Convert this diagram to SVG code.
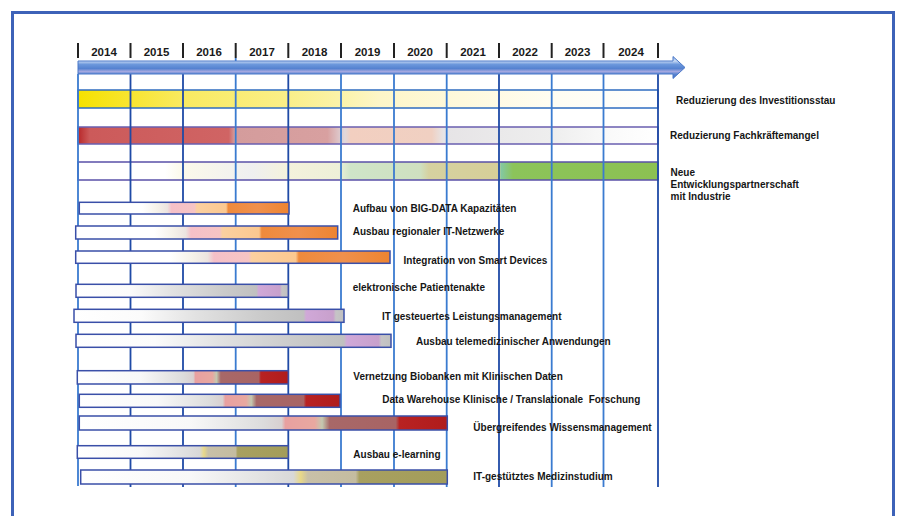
<svg xmlns="http://www.w3.org/2000/svg" width="897" height="516" viewBox="0 0 897 516">
<style>
.yr{font-family:"Liberation Sans",Arial,sans-serif;font-weight:bold;font-size:11.5px;fill:#1a1a1a;text-anchor:middle}
.lb{font-family:"Liberation Sans",Arial,sans-serif;font-weight:bold;font-size:10px;fill:#161616;white-space:pre}
.tick{stroke:#222;stroke-width:2}
.gl{stroke:#3a7bd0;stroke-width:1.8}
.gd{stroke:#1f4aa6;stroke-width:1.8}
.bar{stroke:#3a4fa8;stroke-width:1.5}
</style>
<defs>
<linearGradient id="gY" x1="0" x2="1" y1="0" y2="0">
<stop offset="0" stop-color="#f5e200"/><stop offset="0.09" stop-color="#f8e530"/><stop offset="0.18" stop-color="#f9ea60"/><stop offset="0.36" stop-color="#faef88"/><stop offset="0.45" stop-color="#fbf3a8"/><stop offset="0.52" stop-color="#fdf6c8"/><stop offset="0.66" stop-color="#fef9dc"/><stop offset="0.82" stop-color="#fffdf2"/><stop offset="1" stop-color="#ffffff"/>
</linearGradient>
<linearGradient id="gR" x1="0" x2="1" y1="0" y2="0">
<stop offset="0" stop-color="#b8282a"/><stop offset="0.02" stop-color="#cc5a5a"/><stop offset="0.26" stop-color="#d06464"/><stop offset="0.27" stop-color="#d49c9c"/><stop offset="0.43" stop-color="#d8a0a0"/><stop offset="0.46" stop-color="#e0d8dc"/><stop offset="0.47" stop-color="#f2cfc0"/><stop offset="0.61" stop-color="#f0d0c2"/><stop offset="0.63" stop-color="#e6e4e6"/><stop offset="0.82" stop-color="#eeeeee"/><stop offset="0.92" stop-color="#fafafa"/><stop offset="1" stop-color="#ffffff"/>
</linearGradient>
<linearGradient id="gG" x1="0" x2="1" y1="0" y2="0">
<stop offset="0" stop-color="#ffffff"/><stop offset="0.15" stop-color="#ffffff"/><stop offset="0.18" stop-color="#fbf9ea"/><stop offset="0.3" stop-color="#efeff0"/><stop offset="0.36" stop-color="#f4f2dc"/><stop offset="0.45" stop-color="#eef0d8"/><stop offset="0.47" stop-color="#cfe5c8"/><stop offset="0.59" stop-color="#cfe0c0"/><stop offset="0.605" stop-color="#d6d1a0"/><stop offset="0.725" stop-color="#d6cf98"/><stop offset="0.73" stop-color="#84c8a0"/><stop offset="0.75" stop-color="#8cc45a"/><stop offset="1" stop-color="#8cc152"/>
</linearGradient>
<linearGradient id="gOr" x1="0" x2="1" y1="0" y2="0">
<stop offset="0" stop-color="#ffffff"/><stop offset="0.3" stop-color="#ffffff"/><stop offset="0.37" stop-color="#f6f2ea"/><stop offset="0.42" stop-color="#ece4e0"/><stop offset="0.44" stop-color="#f5c0c8"/><stop offset="0.55" stop-color="#f6c4c4"/><stop offset="0.56" stop-color="#fbd0a0"/><stop offset="0.7" stop-color="#fbc890"/><stop offset="0.71" stop-color="#ef8a3c"/><stop offset="0.85" stop-color="#f0904c"/><stop offset="1" stop-color="#ee8430"/>
</linearGradient>
<linearGradient id="gPu" x1="0" x2="1" y1="0" y2="0">
<stop offset="0" stop-color="#ffffff"/><stop offset="0.25" stop-color="#fbfbfb"/><stop offset="0.45" stop-color="#e2e2e2"/><stop offset="0.7" stop-color="#cacaca"/><stop offset="0.85" stop-color="#c0c0c0"/><stop offset="0.86" stop-color="#d0a8d8"/><stop offset="0.96" stop-color="#c8a0cc"/><stop offset="0.97" stop-color="#c6c4c6"/><stop offset="1" stop-color="#c0c0c0"/>
</linearGradient>
<linearGradient id="gRd" x1="0" x2="1" y1="0" y2="0">
<stop offset="0" stop-color="#ffffff"/><stop offset="0.3" stop-color="#f8f8f8"/><stop offset="0.5" stop-color="#dcdcdc"/><stop offset="0.55" stop-color="#d8d0d0"/><stop offset="0.56" stop-color="#e8a0a0"/><stop offset="0.64" stop-color="#e8a8a0"/><stop offset="0.66" stop-color="#c4c8b0"/><stop offset="0.68" stop-color="#a86868"/><stop offset="0.86" stop-color="#a86464"/><stop offset="0.87" stop-color="#b82222"/><stop offset="1" stop-color="#b01c1c"/>
</linearGradient>
<linearGradient id="gOl" x1="0" x2="1" y1="0" y2="0">
<stop offset="0" stop-color="#ffffff"/><stop offset="0.3" stop-color="#f8f8f8"/><stop offset="0.58" stop-color="#d8d8d8"/><stop offset="0.6" stop-color="#e8d888"/><stop offset="0.62" stop-color="#c8c0a8"/><stop offset="0.75" stop-color="#c4bca0"/><stop offset="0.76" stop-color="#a8a060"/><stop offset="1" stop-color="#a39d5a"/>
</linearGradient>
<linearGradient id="gA" x1="0" x2="0" y1="0" y2="1">
<stop offset="0" stop-color="#8fb2e6"/><stop offset="0.2" stop-color="#c8daf4"/><stop offset="0.36" stop-color="#6c98dc"/><stop offset="0.55" stop-color="#5582d0"/><stop offset="0.68" stop-color="#a4a8e0"/><stop offset="0.8" stop-color="#5a86d2"/><stop offset="1" stop-color="#3c6cc4"/>
</linearGradient>
</defs>
<rect width="897" height="516" fill="#ffffff"/>
<path d="M12.5,516 V12.5 H893.5 V516" fill="none" stroke="#3d62b8" stroke-width="3"/>

<g id="years">
<line class="tick" x1="78" y1="43" x2="78" y2="58"/>
<line class="tick" x1="130.5" y1="43" x2="130.5" y2="58"/>
<line class="tick" x1="183" y1="43" x2="183" y2="58"/>
<line class="tick" x1="235.7" y1="43" x2="235.7" y2="58"/>
<line class="tick" x1="288.3" y1="43" x2="288.3" y2="58"/>
<line class="tick" x1="341" y1="43" x2="341" y2="58"/>
<line class="tick" x1="394" y1="43" x2="394" y2="58"/>
<line class="tick" x1="446.7" y1="43" x2="446.7" y2="58"/>
<line class="tick" x1="499" y1="43" x2="499" y2="58"/>
<line class="tick" x1="551.7" y1="43" x2="551.7" y2="58"/>
<line class="tick" x1="603.5" y1="43" x2="603.5" y2="58"/>
<line class="tick" x1="658" y1="43" x2="658" y2="58"/>
<text class="yr" x="104" y="56">2014</text>
<text class="yr" x="156.5" y="56">2015</text>
<text class="yr" x="209" y="56">2016</text>
<text class="yr" x="262" y="56">2017</text>
<text class="yr" x="314.5" y="56">2018</text>
<text class="yr" x="367.5" y="56">2019</text>
<text class="yr" x="420" y="56">2020</text>
<text class="yr" x="473" y="56">2021</text>
<text class="yr" x="525" y="56">2022</text>
<text class="yr" x="577.5" y="56">2023</text>
<text class="yr" x="631" y="56">2024</text>
</g>

<g id="rows">
<rect x="78" y="90" width="580" height="18" fill="url(#gY)" stroke="#2f6cc0" stroke-width="1.5"/>
<rect x="78" y="127" width="580" height="17" fill="url(#gR)" stroke="#6a5fb0" stroke-width="1.5"/>
<rect x="78" y="162" width="580" height="18" fill="url(#gG)" stroke="#5a50a8" stroke-width="1.5"/>
</g>

<g id="grid">
<line class="gl" x1="78" y1="74" x2="78" y2="486"/>
<line class="gd" x1="130.5" y1="74" x2="130.5" y2="487"/>
<line class="gd" x1="183" y1="74" x2="183" y2="487"/>
<line class="gl" x1="235.7" y1="58" x2="235.7" y2="487"/>
<line class="gd" x1="288.3" y1="74" x2="288.3" y2="487"/>
<line class="gl" x1="341" y1="74" x2="341" y2="487"/>
<line class="gl" x1="394" y1="74" x2="394" y2="487"/>
<line class="gl" x1="446.7" y1="74" x2="446.7" y2="487"/>
<line class="gd" x1="499" y1="74" x2="499" y2="487"/>
<line class="gl" x1="551.7" y1="74" x2="551.7" y2="487"/>
<line class="gl" x1="603.5" y1="74" x2="603.5" y2="487"/>
<line class="gd" x1="658" y1="74" x2="658" y2="487"/>
</g>

<g id="timeline-arrow">
<path d="M78,61 H673 V56.5 L685,67.5 L673,78.5 V74 H78 Z" fill="url(#gA)" stroke="#4a78c8" stroke-width="1"/>
</g>

<g id="n-investitionsstau"><text class="lb" x="676" y="103.5">Reduzierung des Investitionsstau</text></g>
<g id="n-fachkraefte"><text class="lb" x="670" y="138.5">Reduzierung Fachkräftemangel</text></g>
<g id="n-partnerschaft">
<text class="lb" x="670.5" y="176">Neue</text>
<text class="lb" x="670.5" y="188">Entwicklungspartnerschaft</text>
<text class="lb" x="670.5" y="200">mit Industrie</text>
</g>

<g id="n-bigdata">
<rect class="bar" x="79.3" y="202.3" width="209.7" height="11.7" fill="url(#gOr)"/>
<text class="lb" x="352.7" y="211.5">Aufbau von BIG-DATA Kapazitäten</text>
</g>
<g id="n-netzwerke">
<rect class="bar" x="75.7" y="226" width="262" height="13" fill="url(#gOr)"/>
<text class="lb" x="352.7" y="235">Ausbau regionaler IT-Netzwerke</text>
</g>
<g id="n-smartdevices">
<rect class="bar" x="75.7" y="251" width="314.3" height="12.3" fill="url(#gOr)"/>
<text class="lb" x="403.5" y="263.5">Integration von Smart Devices</text>
</g>
<g id="n-patientenakte">
<rect class="bar" x="76" y="284.3" width="212.3" height="13" fill="url(#gPu)"/>
<text class="lb" x="352.7" y="291">elektronische Patientenakte</text>
</g>
<g id="n-leistungsmanagement">
<rect class="bar" x="74" y="309.3" width="270" height="13" fill="url(#gPu)"/>
<text class="lb" x="382" y="320">IT gesteuertes Leistungsmanagement</text>
</g>
<g id="n-telemedizin">
<rect class="bar" x="76" y="334.3" width="315" height="13" fill="url(#gPu)"/>
<text class="lb" x="416" y="345">Ausbau telemedizinischer Anwendungen</text>
</g>
<g id="n-biobanken">
<rect class="bar" x="77.3" y="370.7" width="211" height="13.3" fill="url(#gRd)"/>
<text class="lb" x="353.3" y="380">Vernetzung Biobanken mit Klinischen Daten</text>
</g>
<g id="n-datawarehouse">
<rect class="bar" x="79.3" y="394.3" width="260.7" height="13" fill="url(#gRd)"/>
<text class="lb" x="382.3" y="403">Data Warehouse Klinische / Translationale  Forschung</text>
</g>
<g id="n-wissensmanagement">
<rect class="bar" x="79.3" y="416" width="368" height="14" fill="url(#gRd)"/>
<text class="lb" x="473.3" y="431">Übergreifendes Wissensmanagement</text>
</g>
<g id="n-elearning">
<rect class="bar" x="77.3" y="445.7" width="211" height="12.6" fill="url(#gOl)"/>
<text class="lb" x="353.3" y="457.5">Ausbau e-learning</text>
</g>
<g id="n-medizinstudium">
<rect class="bar" x="80.7" y="470" width="366.6" height="14" fill="url(#gOl)"/>
<text class="lb" x="473.3" y="480">IT-gestütztes Medizinstudium</text>
</g>
</svg>
